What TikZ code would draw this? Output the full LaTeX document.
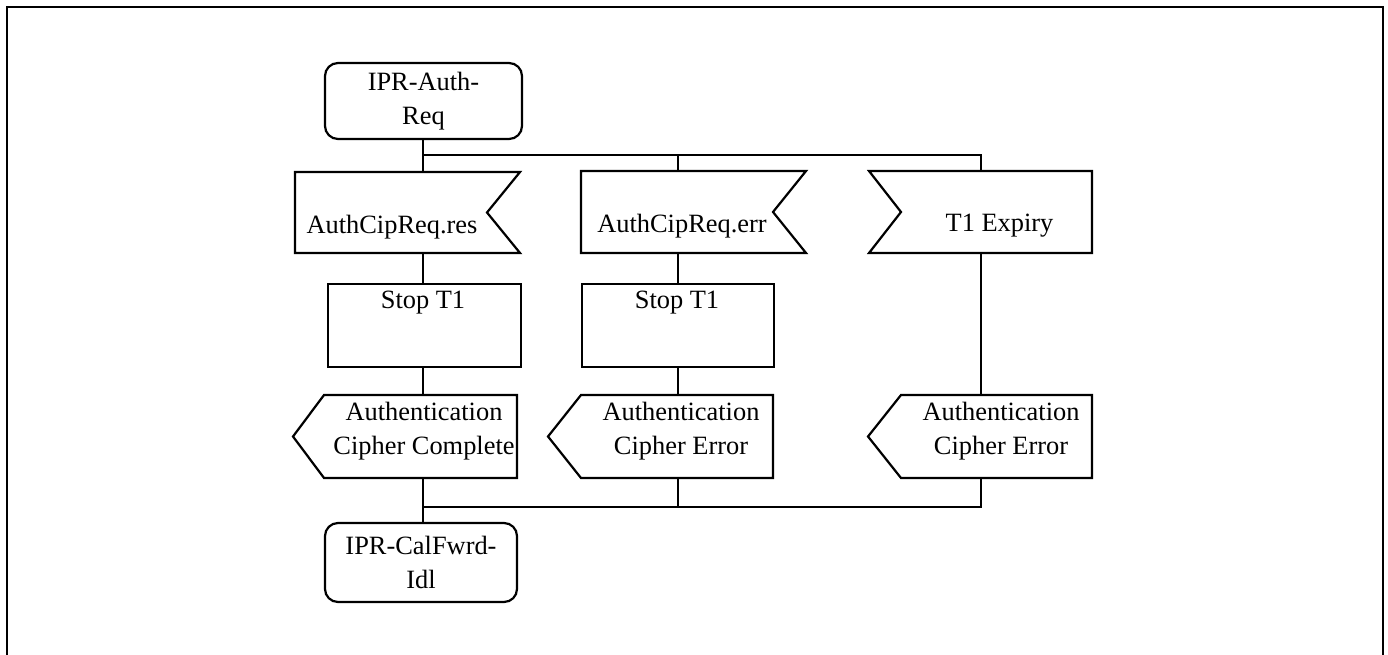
\documentclass[tikz,border=0pt]{standalone}
\usepackage{fontspec}
\setmainfont{Liberation Serif}
\usetikzlibrary{calc}
\begin{document}
\begin{tikzpicture}[x=1pt,y=-1pt,
  line width=2.2pt,
  outline/.style={draw=black, line width=2.2pt, line join=miter},
  conn/.style={draw=black, line width=2.2pt},
  area/.style={inner sep=0pt, outer sep=0pt, draw=none},
  lbl/.style={inner sep=0pt, align=center, font=\fontsize{26.4}{34}\selectfont},
  statebox/.style={draw=black, line width=2.2pt, rounded corners=13pt, inner sep=0pt, outer sep=0pt, align=center, font=\fontsize{26.4}{34}\selectfont},
  taskbox/.style={draw=black, line width=2.2pt, inner sep=0pt, outer sep=0pt}
]
\useasboundingbox (0,0) rectangle (1388,655);
% frame
\draw[line width=2.6pt] (7,660) -- (7,7) -- (1383,7) -- (1383,660);

% column coordinates
\coordinate (c1) at (423,0);
\coordinate (c2) at (678,0);
\coordinate (c3) at (981,0);

% start state
\node[statebox, minimum width=197pt, minimum height=76pt] (s1) at (423.5,101) {IPR-Auth-\\Req};

% input signals
\node[area, minimum width=225pt, minimum height=81pt] (in1) at (407.5,212.5) {};
\draw[outline] (in1.north west) -- (in1.north east) -- ($(in1.east)+(-33,0)$) -- (in1.south east) -- (in1.south west) -- cycle;
\node[lbl] (in1t) at (392,227) {AuthCipReq.res};

\node[area, minimum width=225pt, minimum height=82pt] (in2) at (693.5,212) {};
\draw[outline] (in2.north west) -- (in2.north east) -- ($(in2.east)+(-33,0)$) -- (in2.south east) -- (in2.south west) -- cycle;
\node[lbl] (in2t) at (682,226) {AuthCipReq.err};

\node[area, minimum width=223pt, minimum height=82pt] (in3) at (980.5,212) {};
\draw[outline] (in3.north west) -- (in3.north east) -- (in3.south east) -- (in3.south west) -- ($(in3.west)+(32,0)$) -- cycle;
\node[lbl] (in3t) at (999.5,226) {T1 Expiry};

% tasks
\node[taskbox, minimum width=193pt, minimum height=83pt] (t1) at (424.5,325.5) {};
\node[lbl] (t1t) at (423,303) {Stop T1};
\node[taskbox, minimum width=192pt, minimum height=83pt] (t2) at (678,325.5) {};
\node[lbl] (t2t) at (677,303) {Stop T1};

% output signals
\node[area, minimum width=224pt, minimum height=83pt] (o1) at (405,436.5) {};
\draw[outline] (o1.west) -- ($(o1.north west)+(31,0)$) -- (o1.north east) -- (o1.south east) -- ($(o1.south west)+(31,0)$) -- cycle;
\node[lbl] (o1t) at (424,431) {Authentication\\Cipher Complete};

\node[area, minimum width=225pt, minimum height=83pt] (o2) at (660.5,436.5) {};
\draw[outline] (o2.west) -- ($(o2.north west)+(33,0)$) -- (o2.north east) -- (o2.south east) -- ($(o2.south west)+(33,0)$) -- cycle;
\node[lbl] (o2t) at (681,431) {Authentication\\Cipher Error};

\node[area, minimum width=224pt, minimum height=83pt] (o3) at (980,436.5) {};
\draw[outline] (o3.west) -- ($(o3.north west)+(33,0)$) -- (o3.north east) -- (o3.south east) -- ($(o3.south west)+(33,0)$) -- cycle;
\node[lbl] (o3t) at (1001,431) {Authentication\\Cipher Error};

% end state
\node[statebox, minimum width=192pt, minimum height=79pt] (s2) at (421,562.5) {IPR-CalFwrd-\\Idl};

% bus junctions
\coordinate (j1) at (423,155);
\coordinate (j2) at (678,155);
\coordinate (j3) at (981,155);
\coordinate (k1) at (423,507);
\coordinate (k2) at (678,507);
\coordinate (k3) at (981,507);

% connectors
\draw[conn] (s1.south -| c1) -- (in1.north -| c1);
\draw[conn] (j1) -- (j3) -- (in3.north -| c3);
\draw[conn] (j2) -- (in2.north -| c2);
\draw[conn] (in1.south -| c1) -- (t1.north -| c1);
\draw[conn] (in2.south -| c2) -- (t2.north -| c2);
\draw[conn] (in3.south -| c3) -- (o3.north -| c3);
\draw[conn] (t1.south -| c1) -- (o1.north -| c1);
\draw[conn] (t2.south -| c2) -- (o2.north -| c2);
\draw[conn] (o1.south -| c1) -- (s2.north -| c1);
\draw[conn] (k1) -- (k3) -- (o3.south -| c3);
\draw[conn] (o2.south -| c2) -- (k2);
\end{tikzpicture}
\end{document}
